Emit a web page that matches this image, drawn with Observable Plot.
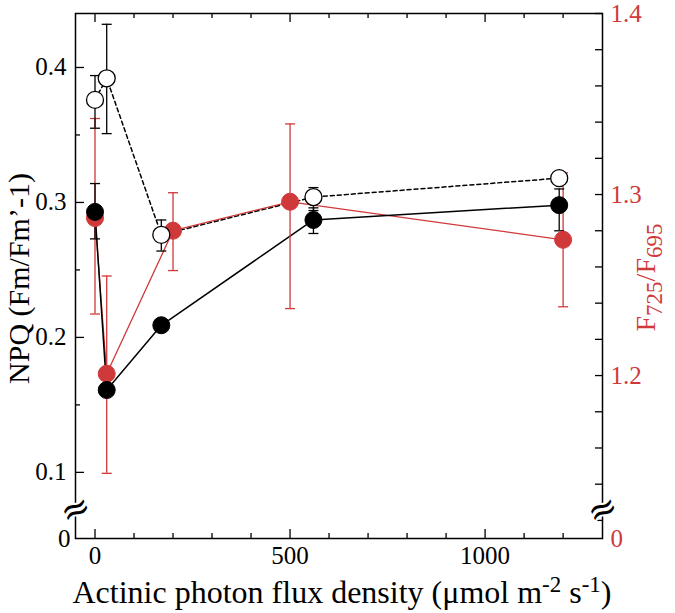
<!DOCTYPE html>
<html><head><meta charset="utf-8">
<script src="https://cdn.jsdelivr.net/npm/d3@7"></script>
<script src="https://cdn.jsdelivr.net/npm/@observablehq/plot@0.6"></script>
<style>body{margin:0;background:#fff} svg{display:block}</style>
</head><body><div id="chart"></div>
<script>
// ---- data ----
const fluxOpen = [0, 30, 170, 560, 1190];
const npqOpen = [0.376, 0.392, 0.276, 0.304, 0.318];
const npqOpenLo = [0.355, 0.351, 0.264, 0.294, 0.315];
const npqOpenHi = [0.394, 0.432, 0.287, 0.311, 0.321];

const fluxFilled = [0, 30, 170, 560, 1190];
const npqFilled = [0.293, 0.161, 0.209, 0.287, 0.298];
const npqFilledLo = [0.273, 0.158, 0.205, 0.277, 0.279];
const npqFilledHi = [0.314, 0.164, 0.213, 0.296, 0.310];

const fluxRed = [0, 30, 200, 500, 1200];
const ratio = [1.287, 1.201, 1.280, 1.296, 1.275];
const ratioLo = [1.234, 1.146, 1.258, 1.237, 1.238];
const ratioHi = [1.342, 1.255, 1.301, 1.339, 1.312];

const xMajor = [0, 500, 1000];
const xMinor = [100, 200, 300, 400, 600, 700, 800, 900, 1100, 1200];
const npqMajor = [0.1, 0.2, 0.3, 0.4];
const npqMinor = [0.15, 0.25, 0.35];
const ratioMajor = [1.2, 1.3, 1.4];
const ratioMinor = [1.12, 1.14, 1.16, 1.18, 1.22, 1.24, 1.26, 1.28, 1.32, 1.34, 1.36, 1.38];

// ---- scales ----
const xDomain = [-50, 1301];
const npqDomain = [0.051, 0.440];
const ratioDomain = [1.110, 1.400];
const toLeft = r => npqDomain[0] + (r - ratioDomain[0]) * (npqDomain[1] - npqDomain[0]) / (ratioDomain[1] - ratioDomain[0]);
const npqBreak = 0.0725;

const RED = "#d0393a";
const FONT = "'Liberation Serif', 'Times New Roman', serif";
const W = 675, H = 613, ML = 75, MR = 73, MT = 13, MB = 75;
const IW = W - ML - MR, IH = H - MT - MB;

const open = fluxOpen.map((x, i) => ({x, y: npqOpen[i], lo: npqOpenLo[i], hi: npqOpenHi[i]}));
const filled = fluxFilled.map((x, i) => ({x, y: npqFilled[i], lo: npqFilledLo[i], hi: npqFilledHi[i]}));
const red = fluxRed.map((x, i) => ({x, y: toLeft(ratio[i]), lo: toLeft(ratioLo[i]), hi: toLeft(ratioHi[i])}));

const cap = {draw(ctx, size) { const r = Math.sqrt(size / Math.PI); ctx.moveTo(-r, 0); ctx.lineTo(r, 0); }};

function errorBars(data, color, width) {
  return [
    Plot.ruleX(data, {x: "x", y1: "lo", y2: "hi", stroke: color, strokeWidth: width}),
    Plot.dot(data, {x: "x", y: "lo", symbol: cap, r: 5, stroke: color, strokeWidth: width}),
    Plot.dot(data, {x: "x", y: "hi", symbol: cap, r: 5, stroke: color, strokeWidth: width})
  ];
}

const breakMark = anchor => Plot.text([npqBreak], {
  y: d => d, frameAnchor: anchor, textAnchor: "middle", text: () => "\u2248", rotate: -25,
  fontSize: 36, fill: "black", stroke: "white", strokeWidth: 4, paintOrder: "stroke", fontFamily: "'DejaVu Serif'"
});

const plot = Plot.plot({
  width: W, height: H,
  marginLeft: ML, marginRight: MR, marginTop: MT, marginBottom: MB,
  style: {fontFamily: FONT, background: "white"},
  x: {domain: xDomain, axis: null},
  y: {domain: npqDomain, axis: null},
  marks: [
    // ticks (inward)
    Plot.tickY(npqMajor, {y: d => d, insetRight: IW - 9, stroke: "black", strokeWidth: 1.3}),
    Plot.tickY(npqMinor, {y: d => d, insetRight: IW - 5, stroke: "black", strokeWidth: 1.3}),
    Plot.tickY(ratioMajor.concat(ratioMinor).map(toLeft), {y: d => d, insetLeft: IW - 7, stroke: "black", strokeWidth: 1.3}),
    Plot.tickX(xMajor, {x: d => d, insetTop: IH - 9, stroke: "black", strokeWidth: 1.3}),
    Plot.tickX(xMinor, {x: d => d, insetTop: IH - 5, stroke: "black", strokeWidth: 1.3}),
    Plot.tickX(xMajor, {x: d => d, insetBottom: IH - 9, stroke: "black", strokeWidth: 1.3}),
    Plot.tickX(xMinor, {x: d => d, insetBottom: IH - 5, stroke: "black", strokeWidth: 1.3}),
    Plot.frame({stroke: "black", strokeWidth: 1.5}),
    // axis breaks
    breakMark("left"),
    breakMark("right"),
    // tick labels
    Plot.text(npqMajor, {y: d => d, frameAnchor: "left", dx: -9, textAnchor: "end", text: d => d.toFixed(1), fontSize: 25, fill: "black"}),
    Plot.text([npqDomain[0]], {y: d => d, frameAnchor: "left", dx: -5, textAnchor: "end", text: () => "0", fontSize: 25, fill: "black"}),
    Plot.text(ratioMajor, {y: d => toLeft(d), frameAnchor: "right", dx: 8, textAnchor: "start", text: d => d.toFixed(1), fontSize: 25, fill: RED}),
    Plot.text([ratioDomain[0]], {y: d => toLeft(d), frameAnchor: "right", dx: 8, textAnchor: "start", text: () => "0", fontSize: 25, fill: RED}),
    Plot.text(xMajor, {x: d => d, frameAnchor: "bottom", dy: 8, lineAnchor: "top", text: d => String(d), fontSize: 25, fill: "black"}),
    // lines
    Plot.line(open, {x: "x", y: "y", stroke: "black", strokeWidth: 1.5, strokeDasharray: "4,3"}),
    Plot.line(red, {x: "x", y: "y", stroke: RED, strokeWidth: 1.3}),
    Plot.line(filled, {x: "x", y: "y", stroke: "black", strokeWidth: 1.5}),
    // error bars
    ...errorBars(red, RED, 1.3),
    ...errorBars(filled, "black", 1.3),
    ...errorBars(open, "black", 1.3),
    // points
    Plot.dot(red, {x: "x", y: "y", r: 8.5, fill: RED, stroke: RED, strokeWidth: 1}),
    Plot.dot(filled, {x: "x", y: "y", r: 8.5, fill: "black", stroke: "black", strokeWidth: 1}),
    Plot.dot(open, {x: "x", y: "y", r: 8.5, fill: "white", stroke: "black", strokeWidth: 1.3})
  ]
});

// axis titles with sub/superscripts
const svg = d3.select(plot);
const cy = MT + IH / 2;
svg.append("text").attr("transform", `translate(29,${cy + 3}) rotate(-90)`)
  .attr("text-anchor", "middle").attr("font-size", 30).attr("font-family", FONT).attr("fill", "black")
  .text("NPQ (Fm/Fm\u2019-1)");

const rt = svg.append("text").attr("transform", `translate(655,${cy + 2}) rotate(-90)`)
  .attr("text-anchor", "middle").attr("font-size", 28).attr("font-family", FONT).attr("fill", RED);
rt.append("tspan").text("F");
rt.append("tspan").attr("font-size", 23).attr("dy", 7).text("725");
rt.append("tspan").attr("dy", -7).text("/F");
rt.append("tspan").attr("font-size", 23).attr("dy", 7).text("695");

const bt = svg.append("text").attr("x", 342).attr("y", 603)
  .attr("text-anchor", "middle").attr("font-size", 32).attr("font-family", FONT).attr("fill", "black");
bt.append("tspan").text("Actinic photon flux density (\u03bcmol m");
bt.append("tspan").attr("font-size", 23).attr("dy", -11).text("-2");
bt.append("tspan").attr("dy", 11).text(" s");
bt.append("tspan").attr("font-size", 23).attr("dy", -11).text("-1");
bt.append("tspan").attr("dy", 11).text(")");

document.getElementById("chart").appendChild(plot);
</script>
</body></html>
